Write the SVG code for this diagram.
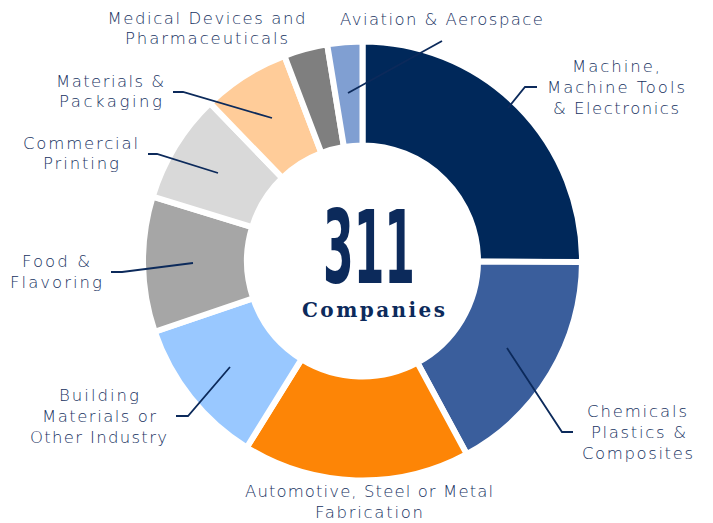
<svg xmlns="http://www.w3.org/2000/svg" width="713" height="523" viewBox="0 0 713 523">
<style>
.s{stroke:#fff;stroke-width:6;stroke-linejoin:miter}
.lbl{font-family:"DejaVu Sans","Liberation Sans",sans-serif;font-weight:200;font-size:16.5px;fill:#17325f;text-anchor:middle}
.ld{fill:none;stroke:#0c2a5b;stroke-width:1.8}
</style>
<rect width="713" height="523" fill="#fff"/>
<g id="slices">
<g id="machine"><path class="s" fill="#00285a" d="M362.5,41.5 A219.5,219.5 0 0 1 582,262.11 L478,261.58 A115.5,115.5 0 0 0 362.5,145.5 Z"/></g>
<g id="chemicals"><path class="s" fill="#3a5e9c" d="M582,262.11 A219.5,219.5 0 0 1 466.76,454.12 L417.36,362.62 A115.5,115.5 0 0 0 478,261.58 Z"/></g>
<g id="automotive"><path class="s" fill="#fd8506" d="M466.76,454.12 A219.5,219.5 0 0 1 246.73,447.48 L301.58,359.13 A115.5,115.5 0 0 0 417.36,362.62 Z"/></g>
<g id="building"><path class="s" fill="#99c8ff" d="M246.73,447.48 A219.5,219.5 0 0 1 154.72,331.76 L253.17,298.23 A115.5,115.5 0 0 0 301.58,359.13 Z"/></g>
<g id="food"><path class="s" fill="#a6a6a6" d="M154.72,331.76 A219.5,219.5 0 0 1 152.68,196.56 L252.09,227.09 A115.5,115.5 0 0 0 253.17,298.23 Z"/></g>
<g id="commercial"><path class="s" fill="#d9d9d9" d="M152.68,196.56 A219.5,219.5 0 0 1 210.02,103.11 L282.26,177.92 A115.5,115.5 0 0 0 252.09,227.09 Z"/></g>
<g id="materials"><path class="s" fill="#ffcc99" d="M210.02,103.11 A219.5,219.5 0 0 1 284.43,55.85 L321.42,153.05 A115.5,115.5 0 0 0 282.26,177.92 Z"/></g>
<g id="medical"><path class="s" fill="#7f7f7f" d="M284.43,55.85 A219.5,219.5 0 0 1 327.18,44.36 L343.92,147 A115.5,115.5 0 0 0 321.42,153.05 Z"/></g>
<g id="aviation"><path class="s" fill="#809fd2" d="M327.18,44.36 A219.5,219.5 0 0 1 362.5,41.5 L362.5,145.5 A115.5,115.5 0 0 0 343.92,147 Z"/></g>
</g>
<g id="connectors">
<polyline class="ld" points="348,93 442,41"/>
<polyline class="ld" points="508,108 525,87 537,87"/>
<polyline class="ld" points="272,118 183,92 173,92"/>
<polyline class="ld" points="218,173 157,154 148,154"/>
<polyline class="ld" points="193,263 122,272 111,272"/>
<polyline class="ld" points="230,367 188,416 176,416"/>
<polyline class="ld" points="507,348 562,432 573,432"/>
</g>
<g id="center">
<text transform="translate(369,283) scale(1,2)" font-family="'DejaVu Sans Condensed','DejaVu Sans',sans-serif" font-weight="bold" font-size="50.7" fill="#0c2a5b" text-anchor="middle" textLength="92" lengthAdjust="spacingAndGlyphs">311</text>
<text x="373.5" y="317" font-family="'DejaVu Serif','Liberation Serif',serif" font-weight="bold" font-size="20" fill="#0c2a5b" text-anchor="middle" textLength="143" lengthAdjust="spacing">Companies</text>
</g>
<g id="labels">
<g id="lbl-medical">
<text class="lbl" x="206.5" y="24" textLength="198">Medical Devices and</text>
<text class="lbl" x="206.5" y="44" textLength="163">Pharmaceuticals</text>
</g>
<g id="lbl-aviation">
<text class="lbl" x="441.5" y="25" textLength="203">Aviation &amp; Aerospace</text>
</g>
<g id="lbl-machine">
<text class="lbl" x="616" y="72" textLength="88">Machine,</text>
<text class="lbl" x="616" y="93" textLength="138">Machine Tools</text>
<text class="lbl" x="616" y="114" textLength="126">&amp; Electronics</text>
</g>
<g id="lbl-materials">
<text class="lbl" x="110" y="87" textLength="108">Materials &amp;</text>
<text class="lbl" x="110.5" y="107" textLength="103">Packaging</text>
</g>
<g id="lbl-commercial">
<text class="lbl" x="80.5" y="149" textLength="115">Commercial</text>
<text class="lbl" x="81" y="169" textLength="76">Printing</text>
</g>
<g id="lbl-food">
<text class="lbl" x="56" y="267" textLength="68">Food &amp;</text>
<text class="lbl" x="56" y="288" textLength="92">Flavoring</text>
</g>
<g id="lbl-building">
<text class="lbl" x="99" y="401" textLength="80">Building</text>
<text class="lbl" x="99" y="422" textLength="114">Materials or</text>
<text class="lbl" x="98.5" y="443" textLength="137">Other Industry</text>
</g>
<g id="lbl-automotive">
<text class="lbl" x="369" y="497" textLength="248">Automotive, Steel or Metal</text>
<text class="lbl" x="369" y="518" textLength="108">Fabrication</text>
</g>
<g id="lbl-chemicals">
<text class="lbl" x="637" y="417" textLength="100">Chemicals</text>
<text class="lbl" x="638.5" y="438" textLength="95">Plastics &amp;</text>
<text class="lbl" x="637.5" y="459" textLength="111">Composites</text>
</g>
</g>
</svg>
